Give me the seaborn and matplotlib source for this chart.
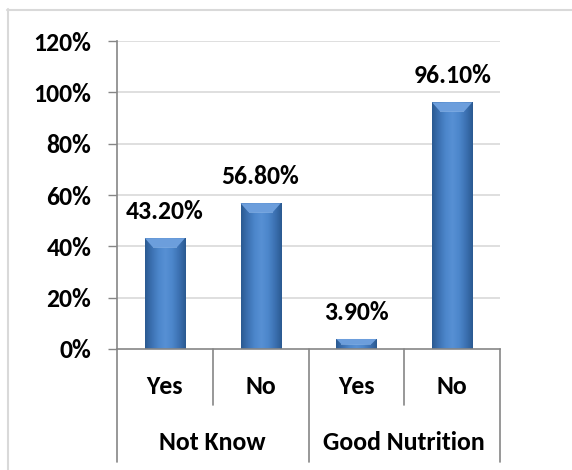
import numpy as np
import pandas as pd
import matplotlib
matplotlib.use("Agg")
import matplotlib.pyplot as plt
import matplotlib.transforms as mtransforms
from matplotlib.colors import LinearSegmentedColormap
from matplotlib.patches import Polygon
from matplotlib.lines import Line2D
import seaborn as sns

# Data
groups = ["Not Know", "Good Nutrition"]
answers = ["Yes", "No", "Yes", "No"]
shares = [0.432, 0.568, 0.039, 0.961]
value_labels = ["43.20%", "56.80%", "3.90%", "96.10%"]
yticks = [0.0, 0.2, 0.4, 0.6, 0.8, 1.0, 1.2]
ytick_labels = ["0%", "20%", "40%", "60%", "80%", "100%", "120%"]

sns.set_theme(style="white")
plt.rcParams["font.family"] = ["Carlito", "DejaVu Sans"]
plt.rcParams["font.weight"] = "bold"
FS = 18.5

W, H = 572, 470
fig = plt.figure(figsize=(W / 100, H / 100), dpi=100)
fig.patch.set_facecolor("white")

# chart frame (left and top edges)
fig.add_artist(Line2D([7.5 / W, 7.5 / W], [0, 1 - 9 / H], color="#D9D9D9", lw=1.5,
                      transform=fig.transFigure))
fig.add_artist(Line2D([7 / W, 1], [1 - 9.5 / H, 1 - 9.5 / H], color="#D9D9D9", lw=1.5,
                      transform=fig.transFigure))

ax = fig.add_axes([117 / W, 121 / H, 383 / W, 308 / H])
ax.set_facecolor("white")

df = pd.DataFrame({"slot": [0, 1, 2, 3], "share": shares})
sns.barplot(data=df, x="slot", y="share", color="#4A7EBB", saturation=1,
            width=0.42, ax=ax, zorder=3, edgecolor="none")

ax.set_ylim(0, 1.2)
ax.set_xlim(-0.5, 3.5)
ax.set_yticks(yticks)
ax.set_yticklabels(ytick_labels, fontsize=FS, fontweight="bold", color="black")
ax.tick_params(axis="y", length=6.5, width=1, color="#868686", pad=12, left=True)
ax.set_xticks([])
ax.set_xlabel("")
ax.set_ylabel("")

for y in yticks[1:]:
    ax.axhline(y, color="#D9D9D9", lw=1.2, zorder=1)

for side in ["top", "right"]:
    ax.spines[side].set_visible(False)
for side in ["left", "bottom"]:
    ax.spines[side].set_color("#868686")
    ax.spines[side].set_linewidth(1.2)
    ax.spines[side].set_zorder(5)

# shaded bar faces with a bevelled top
shade = LinearSegmentedColormap.from_list(
    "bar_shade", ["#2A5990", "#3C71B2", "#4C86CB", "#5790D4", "#4C86CB", "#3C71B2", "#2A5990"])
grad = np.linspace(0, 1, 256).reshape(1, -1)
px_x = 383 / 4.0      # pixels per category unit
px_y = 308 / 1.2      # pixels per unit of share
for patch in ax.patches:
    x0, y0 = patch.get_x(), patch.get_y()
    w, h = patch.get_width(), patch.get_height()
    img = ax.imshow(grad, cmap=shade, aspect="auto", extent=[x0, x0 + w, y0, y0 + h],
                    zorder=3.5, interpolation="bicubic")
    img.set_clip_path(patch)
    bev_y = min(9 / px_y, h * 0.5)
    bev_x = min(8 / px_x, bev_y * px_y / px_x)
    top = y0 + h
    ax.add_patch(Polygon([[x0, top], [x0 + w, top], [x0 + w - bev_x, top - bev_y],
                          [x0 + bev_x, top - bev_y]], closed=True,
                         facecolor="#6C9EDC", edgecolor="none", zorder=4))
    ax.add_patch(Polygon([[x0 + bev_x, top - bev_y], [x0 + w - bev_x, top - bev_y],
                          [x0 + w - bev_x, top - bev_y - 0.004], [x0 + bev_x, top - bev_y - 0.004]],
                         closed=True, facecolor="#8DB6E8", edgecolor="none", zorder=4, alpha=0.6))
ax.set_xlim(-0.5, 3.5)
ax.set_ylim(0, 1.2)

# value labels
for i, (v, lab) in enumerate(zip(shares, value_labels)):
    ax.annotate(lab, (i, v), xytext=(0, 19), textcoords="offset points",
                ha="center", va="center", fontsize=FS, fontweight="bold", color="black")

# two-level category axis
trans = mtransforms.blended_transform_factory(ax.transData, ax.transAxes)
for i, a in enumerate(answers):
    ax.text(i, -0.123, a, transform=trans, ha="center", va="center",
            fontsize=FS, fontweight="bold", color="black")
for g, xc in zip(groups, [0.5, 2.5]):
    ax.text(xc, -0.305, g, transform=trans, ha="center", va="center",
            fontsize=FS, fontweight="bold", color="black")
for xb in [0.5, 2.5]:
    ax.add_line(Line2D([xb, xb], [0, -0.182], transform=trans, color="#868686",
                       lw=1.2, clip_on=False))
for xb in [-0.5, 1.5, 3.5]:
    ax.add_line(Line2D([xb, xb], [0, -0.367], transform=trans, color="#868686",
                       lw=1.2, clip_on=False))

fig.savefig("out.png", dpi=100, facecolor="white")
